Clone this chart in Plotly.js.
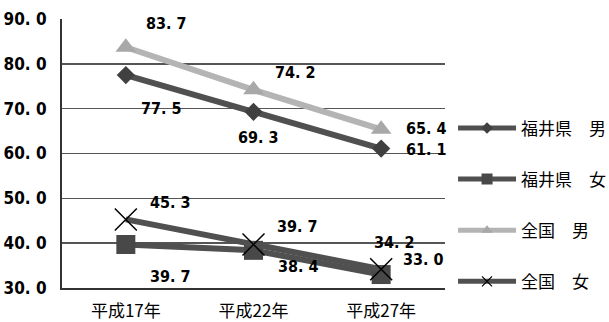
<!DOCTYPE html>
<html><head><meta charset="utf-8">
<script src="https://cdn.plot.ly/plotly-3.0.1.min.js"></script>
<style>body{margin:0;background:#fff}#c{width:609px;height:322px}</style>
</head><body><div id="c"></div>
<script>
const categories = ['平成17年', '平成22年', '平成27年'];
const seriesNames = ['福井県　男', '福井県　女', '全国　男', '全国　女'];
const fukuiMale = [77.5, 69.3, 61.1];
const fukuiFemale = [39.7, 38.4, 33.0];
const nationalMale = [83.7, 74.2, 65.4];
const nationalFemale = [45.3, 39.7, 34.2];
const yTickVals = [30, 40, 50, 60, 70, 80, 90];
const yTickText = ['30. 0', '40. 0', '50. 0', '60. 0', '70. 0', '80. 0', '90. 0'];

const numFont = 'Liberation Sans Narrow, DejaVu Sans Condensed, Arial Narrow, sans-serif';
const cjkFont = 'Noto Sans CJK JP, sans-serif';
const dark = '#505050', light = '#b4b4b4';

const series = [
  {y: fukuiMale, color: dark, marker: {symbol: 'diamond', size: 14, color: '#404040'},
   legMarker: {symbol: 'diamond', size: 9, color: '#404040'},
   offs: [[36, 33], [5, 26], [45, 1]]},
  {y: fukuiFemale, color: dark, marker: {symbol: 'square', size: 19, color: '#484848'},
   legMarker: {symbol: 'square', size: 11, color: '#484848'},
   offs: [[45, 32], [45, 16], [42, -15]]},
  {y: nationalMale, color: light, marker: {symbol: 'triangle-up', size: 18, color: '#a8a8a8'},
   legMarker: {symbol: 'triangle-up', size: 10, color: '#a8a8a8'},
   offs: [[41, -24], [42, -17], [45, -1]]},
  {y: nationalFemale, color: dark, marker: {symbol: 'x-thin-open', size: 22, color: '#000', line: {width: 1.5, color: '#000'}},
   legMarker: {symbol: 'x-thin-open', size: 10, color: '#000', line: {width: 1.2, color: '#000'}},
   offs: [[45, -17], [44, -18], [13, -27]]}
];

const traces = series.map((s, i) => ({
  x: categories, y: s.y, type: 'scatter', mode: 'lines+markers', name: seriesNames[i],
  showlegend: false,
  line: {color: s.color, width: 6}, marker: s.marker
}));
// legend-only entries (smaller symbols, like the original legend)
series.forEach((s, i) => {
  traces.push({
    x: [null], y: [null], type: 'scatter', mode: 'lines+markers', name: seriesNames[i],
    legendgroup: 'g' + i, showlegend: true,
    line: {color: s.color, width: 5}, marker: s.legMarker
  });
});

const annotations = [];
series.forEach(s => {
  s.y.forEach((v, j) => {
    annotations.push({
      x: categories[j], y: v, xref: 'x', yref: 'y', showarrow: false,
      text: v.toFixed(1).replace('.', '. '),
      xshift: s.offs[j][0], yshift: -s.offs[j][1],
      font: {family: numFont, size: 16, color: '#000', weight: 'bold'}
    });
  });
});

const layout = {
  width: 609, height: 322,
  margin: {l: 62, r: 164, t: 19, b: 34, autoexpand: false},
  paper_bgcolor: '#fff', plot_bgcolor: '#fff',
  showlegend: true,
  legend: {x: 1.021, xanchor: 'left', y: 0.66, yanchor: 'top', tracegroupgap: 26,
    itemwidth: 58, font: {family: cjkFont, size: 17, color: '#000'}, bgcolor: 'rgba(0,0,0,0)'},
  xaxis: {type: 'category', range: [-0.5, 2.5], showgrid: false, showline: true,
    linecolor: '#333', linewidth: 2, ticks: '', ticklabelstandoff: 7,
    tickfont: {family: cjkFont, size: 17, color: '#000'},
    fixedrange: true},
  yaxis: {range: [30, 90], tickvals: yTickVals, ticktext: yTickText, showgrid: true,
    gridcolor: '#555', gridwidth: 1.5, showline: true, linecolor: '#333', linewidth: 2,
    zeroline: false, ticks: '', ticklabelstandoff: 10,
    tickfont: {family: numFont, size: 17, color: '#000', weight: 'bold'}},
  annotations: annotations
};

Plotly.newPlot('c', traces, layout, {staticPlot: true});
</script></body></html>
